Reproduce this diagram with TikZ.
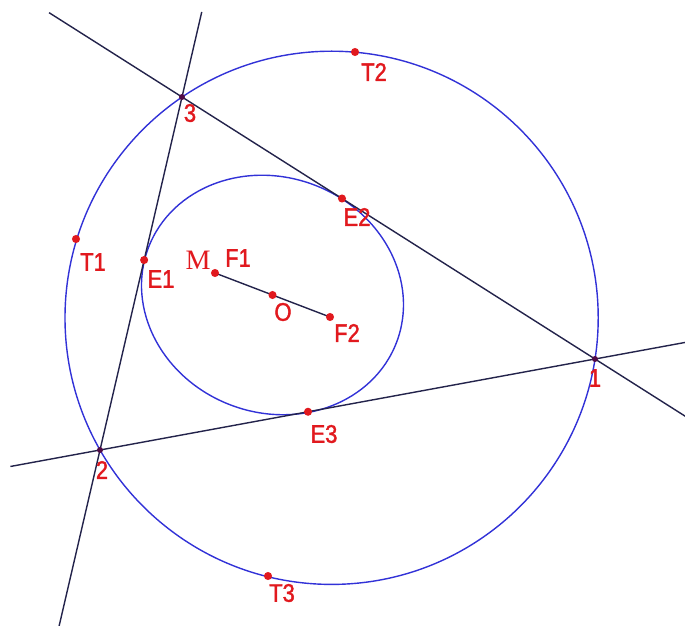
\documentclass[tikz,border=0pt]{standalone}
\usepackage{fontspec}
\setmainfont{Liberation Sans}[FakeStretch=0.86]
\newfontfamily\lblfont{Liberation Sans}[FakeStretch=0.86,FakeBold=1.6]
\newfontfamily\mfont{Liberation Serif}
\usetikzlibrary{calc}
\definecolor{circblue}{RGB}{50,50,215}
\definecolor{lndark}{RGB}{35,35,75}
\definecolor{ptred}{RGB}{225,25,30}
\definecolor{vtx}{RGB}{80,10,70}
\tikzset{
  circ/.style={draw=circblue, line width=0.8pt},
  ln/.style={draw=lndark, line width=0.8pt},
  lbl/.style={text=ptred, font=\lblfont\fontsize{14.5}{15}\selectfont, inner sep=0pt},
  reddot/.style={fill=ptred, circle, inner sep=0pt, minimum size=4.6pt},
  vdot/.style={fill=vtx, circle, inner sep=0pt, minimum size=3.4pt}
}
\begin{document}
\begin{tikzpicture}[x=0.02cm,y=-0.02cm]
\useasboundingbox (0,0) rectangle (685,625);
\clip (0,0) rectangle (685,625);
% key points
\coordinate (P1) at (595,359);
\coordinate (P2) at (100,450);
\coordinate (P3) at (182,97);
\coordinate (C) at (331.6,317.8);
\coordinate (F1) at (215,273);
\coordinate (F2) at (330,317);
\coordinate (O) at (272.5,295);
\coordinate (E1) at ($(P3)!0.4618!(P2)$);
\coordinate (E2) at ($(P3)!0.3874!(P1)$);
\coordinate (E3) at ($(P2)!0.4202!(P1)$);
\coordinate (T1) at (76,239);
\coordinate (T2) at (355,52);
\coordinate (T3) at (268,576);
% line ends
\coordinate (A32) at ($(P3)!-0.241!(P2)$);
\coordinate (B32) at ($(P3)!1.52!(P2)$);
\coordinate (A31) at ($(P3)!-0.322!(P1)$);
\coordinate (B31) at ($(P3)!1.3!(P1)$);
\coordinate (A21) at ($(P2)!-0.181!(P1)$);
\coordinate (B21) at ($(P2)!1.25!(P1)$);
% circles
\draw[circ] (C) circle [radius=266.6];
\draw[circ, rotate around={-20.93:(O)}] (O) ellipse [x radius=132.8, y radius=117.7];
% lines
\draw[ln] (A32) -- (B32);
\draw[ln] (A31) -- (B31);
\draw[ln] (A21) -- (B21);
\draw[ln] (F1) -- (F2);
% dots
\foreach \p in {E1,E2,E3,T1,T2,T3,F1,F2,O} \node[reddot] (d\p) at (\p) {};
\foreach \p in {P1,P2,P3} \node[vdot] (d\p) at (\p) {};
% labels
\node[lbl] (l1) at (595,378) {1};
\node[lbl] (l2) at (102,470) {2};
\node[lbl] (l3) at (190,113) {3};
\node[lbl] (lT1) at (93,262) {T1};
\node[lbl] (lT2) at (374,72) {T2};
\node[lbl] (lT3) at (282,593) {T3};
\node[lbl] (lE1) at (161,279) {E1};
\node[lbl] (lE2) at (357,217) {E2};
\node[lbl] (lE3) at (324,434) {E3};
\node[lbl] (lF1) at (238,258) {F1};
\node[lbl] (lF2) at (347,333) {F2};
\node[lbl] (lO) at (283,312) {O};
\node[lbl, font=\mfont\fontsize{16}{16}\selectfont] (lM) at (198,260) {M};
\end{tikzpicture}
\end{document}
